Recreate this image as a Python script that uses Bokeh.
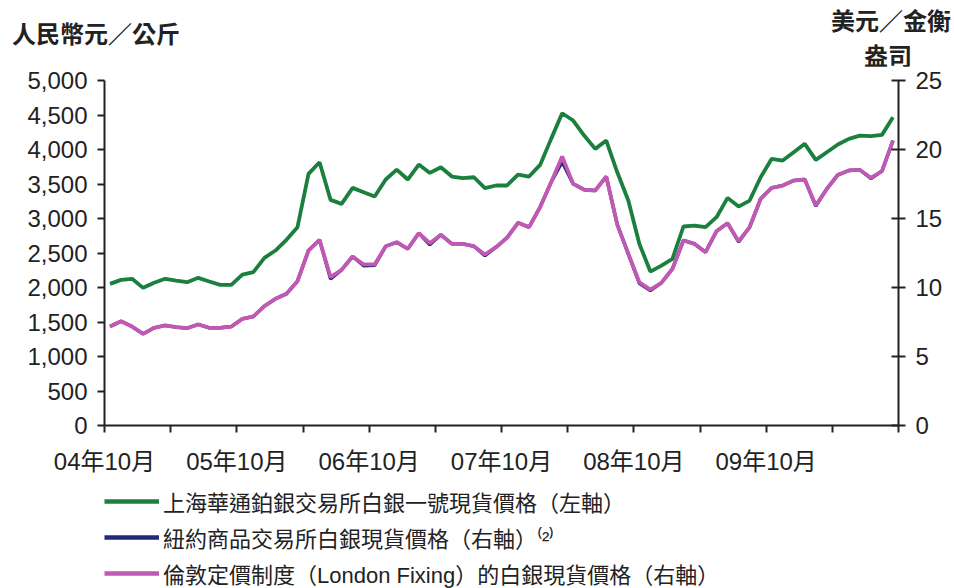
from bokeh.plotting import figure
from bokeh.models import (Range1d, LinearAxis, FixedTicker, NumeralTickFormatter,
                          Legend, LegendItem, ColumnDataSource, Div)
from bokeh.layouts import column
from bokeh.embed import file_html
from bokeh.resources import INLINE

# ---------------- data (monthly, Oct 2004 .. Sep 2010) ----------------
month_index = list(range(72))
tick_positions = [0, 12, 24, 36, 48, 60, 72]
tick_labels = ["04年10月", "05年10月", "06年10月", "07年10月", "08年10月", "09年10月", ""]
minor_tick_positions = [6, 18, 30, 42, 54, 66]

# Shanghai Huatong silver No.1 spot price (RMB/kg, left axis)
sge_rmb_per_kg = [2053, 2111, 2126, 1995, 2068, 2126, 2101, 2077, 2140, 2087, 2039, 2039,
                  2188, 2222, 2430, 2536, 2691, 2874, 3647, 3815, 3270, 3212, 3444, 3381,
                  3318, 3565, 3709, 3565, 3782, 3661, 3743, 3608, 3584, 3598, 3439, 3478,
                  3478, 3637, 3608, 3777, 4154, 4525, 4420, 4202, 4009, 4130, 3670, 3260,
                  2633, 2231, 2318, 2415, 2884, 2898, 2874, 3019, 3299, 3173, 3260, 3598,
                  3865, 3840, 3961, 4082, 3850, 3961, 4072, 4154, 4202, 4193, 4212, 4468]

# COMEX silver spot price (USD/oz, right axis)
comex_usd_per_oz = [7.17, 7.56, 7.17, 6.64, 7.08, 7.25, 7.13, 7.05, 7.32, 7.08, 7.08, 7.17,
                    7.73, 7.90, 8.65, 9.18, 9.54, 10.46, 12.68, 13.45, 10.62, 11.28, 12.25, 11.58,
                    11.60, 12.99, 13.28, 12.80, 13.94, 13.10, 13.82, 13.16, 13.16, 12.99, 12.30, 12.92,
                    13.60, 14.69, 14.37, 15.82, 17.63, 19.10, 17.51, 17.08, 17.03, 18.04, 14.56, 12.44,
                    10.30, 9.78, 10.34, 11.35, 13.41, 13.16, 12.56, 14.08, 14.66, 13.30, 14.37, 16.43,
                    17.22, 17.39, 17.75, 17.83, 15.90, 17.15, 18.16, 18.48, 18.52, 17.90, 18.43, 20.65]

# London Fixing silver spot price (USD/oz, right axis)
london_fix_usd_per_oz = [7.17, 7.56, 7.17, 6.64, 7.08, 7.25, 7.13, 7.05, 7.32, 7.08, 7.08, 7.17,
                         7.73, 7.90, 8.65, 9.18, 9.54, 10.46, 12.68, 13.45, 10.75, 11.28, 12.25, 11.67,
                         11.67, 12.99, 13.28, 12.80, 13.94, 13.21, 13.82, 13.16, 13.16, 12.99, 12.39, 12.92,
                         13.60, 14.69, 14.37, 15.82, 17.63, 19.49, 17.51, 17.08, 17.03, 18.04, 14.56, 12.44,
                         10.38, 9.85, 10.34, 11.35, 13.41, 13.16, 12.56, 14.08, 14.66, 13.36, 14.37, 16.43,
                         17.22, 17.39, 17.75, 17.83, 15.94, 17.15, 18.16, 18.48, 18.52, 17.95, 18.43, 20.65]

series_names = ["上海華通鉑銀交易所白銀一號現貨價格（左軸）",
                "紐約商品交易所白銀現貨價格（右軸）⁽²⁾",
                "倫敦定價制度（London Fixing）的白銀現貨價格（右軸）"]

left_title = "人民幣元／公斤"
right_title_lines = ["美元／金衡", "盎司"]

GREEN = "#1b7f3d"
NAVY = "#23287a"
PINK = "#c158b3"
INK = "#222222"
NUM_FONT = "'Liberation Sans', 'Noto Sans CJK TC'"
CJK_FONT = "'Liberation Sans', 'Noto Sans CJK TC'"
COLORS = [GREEN, NAVY, PINK]

W = 946
HEAD_H = 66
MAIN_TOP = 14
FRAME_H = 345
MAIN_BOTTOM = 52
MAIN_H = MAIN_TOP + FRAME_H + MAIN_BOTTOM
LEG_H = 588 - HEAD_H - MAIN_H

# ---------------- header: the two axis titles ----------------
title_style = ("position:absolute;font-family:'Noto Sans CJK TC';font-weight:bold;"
               "font-size:24px;line-height:24px;color:%s;white-space:nowrap;" % INK)
head_html = (
    '<div style="position:relative;width:%dpx;height:%dpx;">' % (W, HEAD_H)
    + '<div style="%sleft:12px;top:21px;">%s</div>' % (title_style, left_title)
    + '<div style="%sleft:811px;top:8px;width:160px;text-align:center;">%s</div>'
    % (title_style, right_title_lines[0])
    + '<div style="%sleft:808px;top:43px;width:160px;text-align:center;">%s</div>'
    % (title_style, right_title_lines[1])
    + '</div>'
)
head = Div(text=head_html, width=W, height=HEAD_H, margin=0)

# ---------------- main chart ----------------
x_pos = [m + 0.5 for m in month_index]
src = ColumnDataSource(dict(x=x_pos, sge=sge_rmb_per_kg, comex=comex_usd_per_oz,
                            london=london_fix_usd_per_oz))

p = figure(width=W, height=MAIN_H, output_backend="svg", toolbar_location=None,
           x_range=Range1d(0, 72), y_range=Range1d(0, 5000),
           min_border_left=104, min_border_right=48, min_border_top=MAIN_TOP,
           min_border_bottom=MAIN_BOTTOM)
p.outline_line_color = None
p.grid.visible = False
p.extra_y_ranges = {"usd": Range1d(0, 25)}

ya = p.yaxis[0]
ya.ticker = FixedTicker(ticks=list(range(0, 5001, 500)))
ya.formatter = NumeralTickFormatter(format="0,0")
xa = p.xaxis[0]
xa.ticker = FixedTicker(ticks=tick_positions, minor_ticks=minor_tick_positions)
xa.major_label_overrides = {t: l for t, l in zip(tick_positions, tick_labels)}
xa.minor_tick_out = 7
xa.minor_tick_in = 0
xa.minor_tick_line_color = INK
xa.minor_tick_line_width = 2
ra = LinearAxis(y_range_name="usd", ticker=FixedTicker(ticks=[0, 5, 10, 15, 20, 25]))
p.add_layout(ra, "right")

for ax in (ya, xa, ra):
    ax.axis_line_color = INK
    ax.axis_line_width = 2
    ax.major_tick_line_color = INK
    ax.major_tick_line_width = 2
    ax.major_tick_out = 7
    ax.major_label_text_font = NUM_FONT
    ax.major_label_text_font_size = "24px"
    ax.major_label_text_color = INK
ya.major_tick_in = 0
xa.major_tick_in = 0
ra.major_tick_in = 7
ya.minor_tick_line_color = None
ra.minor_tick_line_color = None
ya.major_label_standoff = 10
ra.major_label_standoff = 10
xa.major_label_standoff = 15

p.line("x", "sge", source=src, line_color=GREEN, line_width=3.8)
p.line("x", "comex", source=src, line_color=NAVY, line_width=3.4, y_range_name="usd")
p.line("x", "london", source=src, line_color=PINK, line_width=3.8, y_range_name="usd")

# ---------------- legend below the chart ----------------
leg = figure(width=W, height=LEG_H, output_backend="svg", toolbar_location=None,
             x_range=Range1d(0, 1), y_range=Range1d(0, 1),
             x_axis_type=None, y_axis_type=None,
             min_border_left=104, min_border_right=48, min_border_top=0, min_border_bottom=0)
leg.outline_line_color = None
leg.grid.visible = False
nan = float("nan")
items = []
for name, col in zip(series_names, COLORS):
    # proxy renderer (no visible data) that only supplies the legend swatch style
    r = leg.line(x=[nan, nan], y=[nan, nan], line_color=col, line_width=4.5)
    items.append(LegendItem(label=name, renderers=[r]))
legend = Legend(items=items, location=(0, -1), orientation="vertical",
                padding=0, margin=0, spacing=4,
                glyph_width=55, glyph_height=30, label_height=30, label_standoff=4,
                label_text_font=CJK_FONT, label_text_font_size="22px",
                label_text_color=INK, border_line_color=None,
                background_fill_alpha=0)
leg.add_layout(legend, "center")

open("out.html", "w").write(file_html(column(head, p, leg, spacing=0), INLINE))
